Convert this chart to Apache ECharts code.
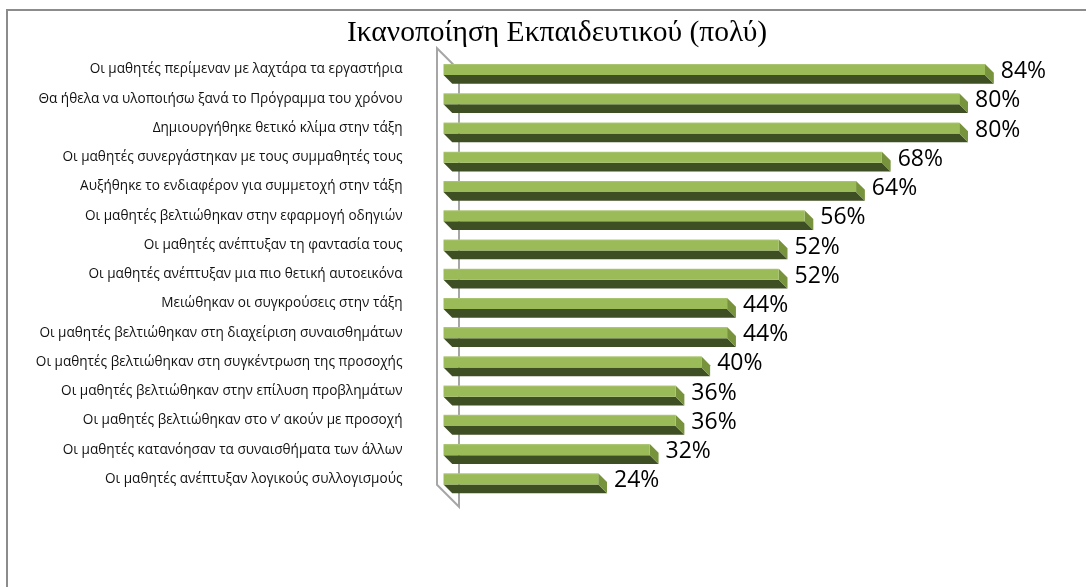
<!DOCTYPE html>
<html>
<head>
<meta charset="utf-8">
<script src="https://cdn.jsdelivr.net/npm/echarts@6/dist/echarts.min.js"></script>
<style>html,body{margin:0;padding:0;background:#fff}#c{width:1086px;height:587px}</style>
</head>
<body>
<div id="c"></div>
<script>
var title = 'Ικανοποίηση Εκπαιδευτικού (πολύ)';
var categories = [
  'Οι μαθητές περίμεναν με λαχτάρα τα εργαστήρια',
  'Θα ήθελα να υλοποιήσω ξανά το Πρόγραμμα του χρόνου',
  'Δημιουργήθηκε θετικό κλίμα στην τάξη',
  'Οι μαθητές συνεργάστηκαν με τους συμμαθητές τους',
  'Αυξήθηκε το ενδιαφέρον για συμμετοχή στην τάξη',
  'Οι μαθητές βελτιώθηκαν στην εφαρμογή οδηγιών',
  'Οι μαθητές ανέπτυξαν τη φαντασία τους',
  'Οι μαθητές ανέπτυξαν μια πιο θετική αυτοεικόνα',
  'Μειώθηκαν οι συγκρούσεις στην τάξη',
  'Οι μαθητές βελτιώθηκαν στη διαχείριση συναισθημάτων',
  'Οι μαθητές βελτιώθηκαν στη συγκέντρωση της προσοχής',
  'Οι μαθητές βελτιώθηκαν στην επίλυση προβλημάτων',
  'Οι μαθητές βελτιώθηκαν στο ν’ ακούν με προσοχή',
  'Οι μαθητές κατανόησαν τα συναισθήματα των άλλων',
  'Οι μαθητές ανέπτυξαν λογικούς συλλογισμούς'
];
var values = [84, 80, 80, 68, 64, 56, 52, 52, 44, 44, 40, 36, 36, 32, 24];

var chart = echarts.init(document.getElementById('c'));

function renderBar(params, api) {
  var idx = api.value(0);
  var v = api.value(1);
  var p0 = api.coord([0, idx]);
  var p1 = api.coord([v, idx]);
  var band = api.size([0, 1])[1];
  var c = p0[1];
  var x0 = p0[0], x1 = p1[0];
  var h = band * 0.38;      // front face height
  var d = band * 0.30;      // depth
  var top = c - h / 2, bot = c + h / 2;
  return {
    type: 'group',
    children: [
      { type: 'polygon', shape: { points: [[x0, bot], [x1, bot], [x1 + d, bot + d], [x0 + d, bot + d]] },
        style: { fill: '#3f4f24' } },
      { type: 'polygon', shape: { points: [[x1, top], [x1 + d, top + d], [x1 + d, bot + d], [x1, bot]] },
        style: { fill: '#77933c' } },
      { type: 'rect', shape: { x: x0, y: top, width: x1 - x0, height: h },
        style: { fill: new echarts.graphic.LinearGradient(0, 0, 0, 1, [
          { offset: 0, color: '#b0c97c' }, { offset: 0.15, color: '#9bbb59' }, { offset: 1, color: '#9bbb59' }]) } },
      { type: 'text', x: x1 + d + 7, y: c + 2,
        style: { text: v + '%', fill: '#000', font: '23px "Open Sans"', verticalAlign: 'middle', align: 'left' } }
    ]
  };
}

function renderWall(params, api) {
  var n = categories.length;
  var a = api.coord([0, 0]);
  var b = api.coord([0, n - 1]);
  var band = api.size([0, 1])[1];
  var xl = a[0] - 6.5, xi = a[0] + 15.5;
  var yt = a[1] - band * 0.73;
  var yb = b[1] + band * 0.2;
  var dep = xi - xl;
  var st = { stroke: '#a6a6a6', lineWidth: 2, fill: null };
  return {
    type: 'group',
    children: [
      { type: 'polyline', shape: { points: [[xi, yt + dep], [xl, yt], [xl, yb], [xi, yb + dep], [xi, yt + dep]] }, style: st }
    ]
  };
}

var barData = values.map(function (v, i) { return [i, v]; });

chart.setOption({
  animation: false,
  title: {
    text: title, left: 552, top: 13, textAlign: 'center',
    textStyle: { fontFamily: 'Liberation Serif', fontSize: 29.5, fontWeight: 'normal', color: '#000' }
  },
  graphic: [
    { type: 'rect', shape: { x: 7, y: 10, width: 1200, height: 700 }, style: { fill: null, stroke: '#8c8c8c', lineWidth: 2 }, z: 100 }
  ],
  grid: { left: 443.5, right: 62.3, top: 54.9, bottom: 587 - 493.5 },
  xAxis: { type: 'value', min: 0, max: 90, show: false },
  yAxis: {
    type: 'category', data: categories, inverse: true,
    axisLine: { show: false }, axisTick: { show: false },
    axisLabel: { margin: 41, fontFamily: 'Open Sans', fontSize: 13.6, color: '#111' }
  },
  series: [
    { type: 'custom', renderItem: renderWall, data: [[0, 0]], encode: { y: 0, x: 1 }, z: 1, silent: true },
    { type: 'custom', renderItem: renderBar, data: barData, encode: { y: 0, x: 1 }, z: 2 }
  ]
});
</script>
</body>
</html>
